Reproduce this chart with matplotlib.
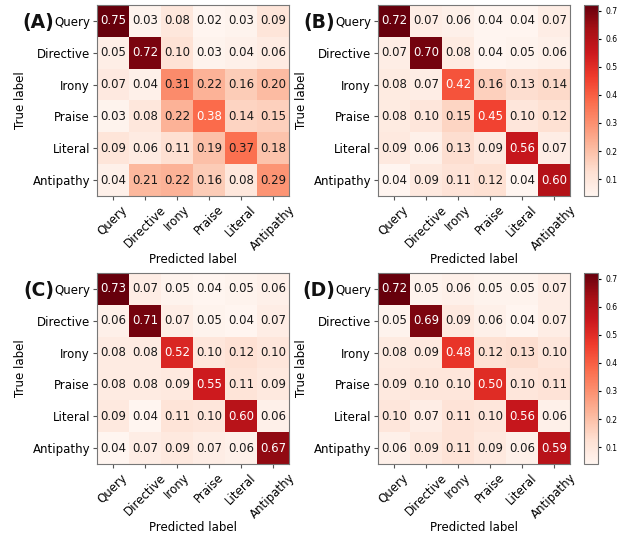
import numpy as np
import matplotlib
matplotlib.use('Agg')
import matplotlib.pyplot as plt

labels = ['Query', 'Directive', 'Irony', 'Praise', 'Literal', 'Antipathy']

cm_a = np.array([
    [0.75, 0.03, 0.08, 0.02, 0.03, 0.09],
    [0.05, 0.72, 0.10, 0.03, 0.04, 0.06],
    [0.07, 0.04, 0.31, 0.22, 0.16, 0.20],
    [0.03, 0.08, 0.22, 0.38, 0.14, 0.15],
    [0.09, 0.06, 0.11, 0.19, 0.37, 0.18],
    [0.04, 0.21, 0.22, 0.16, 0.08, 0.29],
])
cm_b = np.array([
    [0.72, 0.07, 0.06, 0.04, 0.04, 0.07],
    [0.07, 0.70, 0.08, 0.04, 0.05, 0.06],
    [0.08, 0.07, 0.42, 0.16, 0.13, 0.14],
    [0.08, 0.10, 0.15, 0.45, 0.10, 0.12],
    [0.09, 0.06, 0.13, 0.09, 0.56, 0.07],
    [0.04, 0.09, 0.11, 0.12, 0.04, 0.60],
])
cm_c = np.array([
    [0.73, 0.07, 0.05, 0.04, 0.05, 0.06],
    [0.06, 0.71, 0.07, 0.05, 0.04, 0.07],
    [0.08, 0.08, 0.52, 0.10, 0.12, 0.10],
    [0.08, 0.08, 0.09, 0.55, 0.11, 0.09],
    [0.09, 0.04, 0.11, 0.10, 0.60, 0.06],
    [0.04, 0.07, 0.09, 0.07, 0.06, 0.67],
])
cm_d = np.array([
    [0.72, 0.05, 0.06, 0.05, 0.05, 0.07],
    [0.05, 0.69, 0.09, 0.06, 0.04, 0.07],
    [0.08, 0.09, 0.48, 0.12, 0.13, 0.10],
    [0.09, 0.10, 0.10, 0.50, 0.10, 0.11],
    [0.10, 0.07, 0.11, 0.10, 0.56, 0.06],
    [0.06, 0.09, 0.11, 0.09, 0.06, 0.59],
])
panels = ['(A)', '(B)', '(C)', '(D)']

fig = plt.figure(figsize=(6.27, 5.37), dpi=100)
W, H = 627, 537


def px_axes(x0, y0, w, h):
    return fig.add_axes([x0 / W, 1 - (y0 + h) / H, w / W, h / H])


layout = [(97, 5, False), (378, 5, True), (97, 273, False), (378, 273, True)]
cmap = plt.get_cmap('Reds')

for cm, tag, (x0, y0, bar) in zip([cm_a, cm_b, cm_c, cm_d], panels, layout):
    ax = px_axes(x0, y0, 192, 191)
    im = ax.imshow(cm, cmap=cmap, aspect='auto')
    thresh = (cm.max() + cm.min()) / 2 - 0.01
    for i in range(6):
        for j in range(6):
            col = 'white' if cm[i, j] >= thresh else '#1a1a1a'
            ax.text(j, i, f'{cm[i, j]:.2f}', ha='center', va='center',
                    fontsize=8.5, color=col)
    ax.set_xticks(range(6))
    ax.set_yticks(range(6))
    ax.set_xticklabels(labels, rotation=45, ha='center', fontsize=8.5)
    ax.set_yticklabels(labels, fontsize=8.5)
    ax.tick_params(length=3, color='#555555', pad=2)
    for s in ax.spines.values():
        s.set_color('#777777')
    ax.set_xlabel('Predicted label', fontsize=8.5, labelpad=0)
    ax.set_ylabel('True label', fontsize=8.5, labelpad=4)
    ax.text(-0.222, 0.906, tag, transform=ax.transAxes, ha='right', va='center',
            fontsize=13.5, fontweight='bold', color='#111111')
    if bar:
        cax = px_axes(584, y0, 14, 191)
        cb = fig.colorbar(im, cax=cax)
        cb.set_ticks([0.1, 0.2, 0.3, 0.4, 0.5, 0.6, 0.7])
        cb.ax.tick_params(labelsize=5.5, length=2)
        cb.outline.set_edgecolor('#777777')

fig.savefig('out.png', dpi=100)
